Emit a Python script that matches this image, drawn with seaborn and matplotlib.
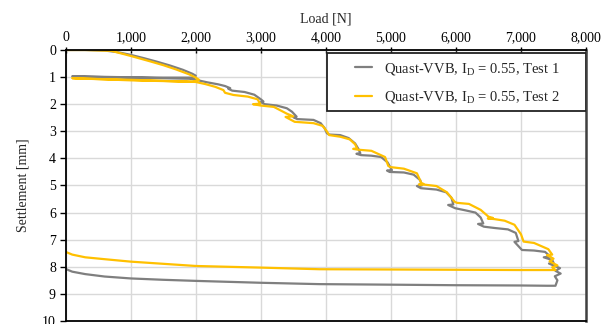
import matplotlib
matplotlib.use("Agg")
import matplotlib.pyplot as plt
import matplotlib.ticker as mticker
from matplotlib.patches import Rectangle
import seaborn as sns
import pandas as pd

# Test 1 (grey): loading, unload/reload cycle at ~2 kN, loading to failure, unloading
load_t1 = [0, 300, 600, 800, 1000, 1200, 1400, 1600, 1800, 1950, 2000, 1980, 1500, 800, 100,
           150, 1000, 1900, 2000, 2170, 2350, 2450, 2530, 2500, 2560, 2750, 2900, 3000, 3040,
           3000, 3060, 3245, 3400, 3480, 3550, 3500, 3560, 3810, 3920, 3980, 4015, 4050, 4220,
           4350, 4450, 4500, 4530, 4470, 4540, 4700, 4850, 4950, 5015, 4940, 4980, 5200, 5350,
           5450, 5475, 5400, 5460, 5700, 5850, 5930, 5960, 5880, 5990, 6150, 6300, 6380, 6420,
           6340, 6430, 6600, 6800, 6920, 6960, 6900, 7015, 7200, 7370, 7450, 7350, 7480, 7500,
           7430, 7550, 7600, 7530, 7610, 7520, 7560, 7530,
           7400, 7000, 6000, 5000, 3900, 3000, 2000, 1500, 1000, 600, 300, 100, 0]
sett_t1 = [0, 0, 0.02, 0.08, 0.18, 0.30, 0.43, 0.57, 0.73, 0.88, 0.95, 1.02, 1.02, 1.00, 0.97,
           0.98, 1.02, 1.06, 1.10, 1.19, 1.27, 1.33, 1.41, 1.43, 1.50, 1.55, 1.65, 1.82, 1.90,
           1.92, 2.00, 2.05, 2.15, 2.28, 2.46, 2.48, 2.55, 2.58, 2.70, 2.88, 3.07, 3.12, 3.14,
           3.25, 3.45, 3.65, 3.81, 3.83, 3.88, 3.90, 3.95, 4.15, 4.43, 4.45, 4.50, 4.52, 4.60,
           4.80, 5.00, 5.02, 5.10, 5.15, 5.25, 5.45, 5.70, 5.72, 5.84, 5.92, 6.00, 6.18, 6.40,
           6.42, 6.52, 6.57, 6.62, 6.75, 7.05, 7.08, 7.38, 7.40, 7.45, 7.62, 7.65, 7.75, 7.85,
           7.88, 8.00, 8.05, 8.15, 8.25, 8.35, 8.50, 8.70,
           8.70, 8.69, 8.68, 8.66, 8.64, 8.59, 8.52, 8.48, 8.43, 8.36, 8.27, 8.18, 8.08]

# Test 2 (yellow)
load_t2 = [0, 300, 700, 1000, 1300, 1500, 1700, 1900, 2000, 2050, 1950, 1000, 100,
           150, 1000, 2000, 2150, 2300, 2425, 2450, 2580, 2800, 2950, 2990, 2880, 3000, 3200,
           3400, 3500, 3380, 3520, 3810, 3950, 4015, 4050, 4220, 4370, 4450, 4480, 4420, 4500,
           4700, 4910, 4960, 4990, 5200, 5400, 5470, 5500, 5430, 5520, 5700, 5860, 5980, 6015,
           6200, 6380, 6500, 6570, 6490, 6590, 6750, 6900, 7000, 7040, 7200, 7420, 7480, 7400,
           7500, 7440, 7560, 7480, 7530,
           7000, 6000, 5000, 3900, 3000, 2000, 1000, 600, 300, 100, 0]
sett_t2 = [0, 0, 0.03, 0.22, 0.42, 0.56, 0.72, 0.90, 1.02, 1.10, 1.17, 1.12, 1.04,
           1.05, 1.10, 1.18, 1.26, 1.36, 1.48, 1.58, 1.66, 1.72, 1.82, 1.98, 2.00, 2.05, 2.10,
           2.35, 2.45, 2.47, 2.65, 2.70, 2.80, 3.00, 3.14, 3.20, 3.30, 3.48, 3.63, 3.65, 3.68,
           3.72, 3.95, 4.28, 4.32, 4.38, 4.55, 4.92, 4.94, 4.96, 4.97, 5.02, 5.25, 5.60, 5.64,
           5.68, 5.90, 6.15, 6.20, 6.22, 6.24, 6.30, 6.45, 6.80, 7.07, 7.12, 7.35, 7.55, 7.57,
           7.70, 7.80, 7.95, 8.02, 8.12,
           8.12, 8.11, 8.10, 8.09, 8.03, 7.97, 7.81, 7.72, 7.65, 7.55, 7.45]

labels = ["Quast-VVB, I$_\\mathrm{D}$ = 0.55, Test 1",
          "Quast-VVB, I$_\\mathrm{D}$ = 0.55, Test 2"]
colors = ["#7F7F7F", "#FFC000"]

sns.set_theme(style="white")
plt.rcParams["font.family"] = ["Liberation Serif", "DejaVu Serif"]
plt.rcParams["mathtext.fontset"] = "custom"
plt.rcParams["mathtext.rm"] = "Liberation Serif"
plt.rcParams["mathtext.it"] = "Liberation Serif:italic"

df = pd.concat([
    pd.DataFrame({"load": load_t1, "sett": sett_t1, "test": labels[0]}),
    pd.DataFrame({"load": load_t2, "sett": sett_t2, "test": labels[1]}),
])

fig = plt.figure(figsize=(6.10, 3.24), dpi=100)
ax = fig.add_axes([0.1077, 0.0093, 0.853, 0.8364])

sns.lineplot(data=df, x="load", y="sett", hue="test", palette=colors,
             sort=False, estimator=None, linewidth=1.6, ax=ax, legend=False)

ax.set_xlim(0, 8000)
ax.set_ylim(10, 0)
ax.xaxis.set_major_locator(mticker.MultipleLocator(1000))
ax.yaxis.set_major_locator(mticker.MultipleLocator(1))
ax.xaxis.set_major_formatter(mticker.FuncFormatter(lambda v, p: f"{int(v):,}"))
ax.xaxis.tick_top()
ax.xaxis.set_label_position("top")
ax.set_xlabel("Load [N]", fontsize=10, labelpad=6)
ax.set_ylabel("Settlement [mm]", fontsize=10)
ax.yaxis.set_label_coords(-0.07, 0.5)
ax.tick_params(axis="x", direction="inout", length=5, width=1, pad=2,
               labelsize=10, colors="black", top=True, bottom=False)
ax.tick_params(axis="y", direction="out", length=4, width=1, pad=3,
               labelsize=10, colors="black", left=True)
ax.grid(True, color="#D9D9D9", linewidth=1)
for side in ["top", "left", "bottom"]:
    ax.spines[side].set_color("black")
    ax.spines[side].set_linewidth(1.3)
ax.spines["right"].set_color("#404040")
ax.spines["right"].set_linewidth(1.8)

# legend box
ax.add_patch(Rectangle((0.503, 0.776), 0.497, 0.212, transform=ax.transAxes,
                       facecolor="white", edgecolor="#222222", linewidth=1.3, zorder=5))
handles = [plt.Line2D([], [], color=c, linewidth=1.6) for c in colors]
leg = ax.legend(handles, labels, loc="center", bbox_to_anchor=(0.752, 0.878),
                frameon=False, fontsize=10.5, handlelength=1.2, handletextpad=0.8,
                labelspacing=0.85)
leg.set_zorder(6)

fig.savefig("out.png", dpi=100)
